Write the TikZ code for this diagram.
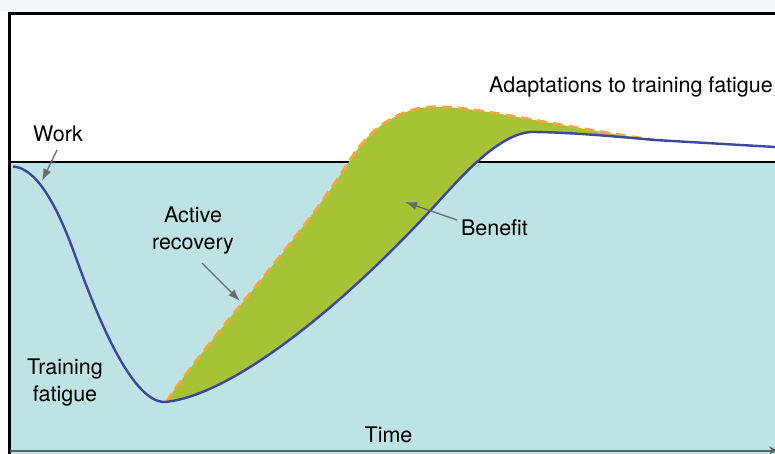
\documentclass[tikz,border=0pt]{standalone}
\usepackage{fontspec}
\setmainfont{TeX Gyre Heros}
\usetikzlibrary{arrows.meta}
\definecolor{bgblue}{HTML}{BDE3E5}
\definecolor{stripgray}{HTML}{F3F7F8}
\definecolor{benefitgreen}{HTML}{A5C334}
\definecolor{curveblue}{HTML}{3B47A1}
\definecolor{dashorange}{HTML}{F7A540}
\definecolor{arrowgray}{HTML}{6A6B6D}
\definecolor{axisgray}{HTML}{5E5F61}
\begin{document}
\begin{tikzpicture}[x=1pt,y=-1pt,
  lbl/.style={inner sep=0pt, font=\fontsize{21.5}{27}\selectfont, text=black},
  pointer/.style={draw=arrowgray, line width=1.3pt, -{Latex[length=12pt,width=8.5pt]}, fill=arrowgray}]
\useasboundingbox (0,0) rectangle (775,454);
\clip (0,0) rectangle (775,454);
% background
\fill[stripgray] (0,0) rectangle (775,11.5);
\fill[bgblue] (9.7,162) rectangle (775,454);
\draw[black, line width=2pt] (9.7,162) -- (775,162);
\draw[black, line width=2.6pt] (8.4,13.3) -- (775,13.3);
\draw[black, line width=2.6pt] (9.7,12) -- (9.7,454);
% time axis
\coordinate (axisstart) at (9.7,450.5);
\coordinate (axisend) at (778,450.5);
\draw[axisgray, line width=2pt, -{Stealth[length=9pt,width=8pt]}] (axisstart) -- (axisend);
% benefit area
\fill[benefitgreen] (166,402) .. controls (215,330) and (300,240) .. (350,160)
  .. controls (375,120) and (410,105) .. (440,107)
  .. controls (480,107) and (560,127) .. (655,140)
  .. controls (610,136) and (565,132) .. (530,132)
  .. controls (500,135) and (467,170) .. (440,200)
  .. controls (340,310) and (230,396) .. (165,402) -- cycle;
% dashed active recovery curve
\draw[dashorange, line width=2.8pt, dash pattern=on 10pt off 6pt]
  (166,402) .. controls (215,330) and (300,240) .. (350,160)
  .. controls (375,120) and (410,105) .. (440,107)
  .. controls (480,107) and (560,127) .. (655,140);
% fatigue / adaptation curve
\draw[curveblue, line width=2.4pt]
  (13,166.5) .. controls (35,168) and (55,200) .. (75,255)
  .. controls (93,305) and (130,403) .. (165,402)
  .. controls (230,396) and (340,310) .. (440,200)
  .. controls (467,170) and (500,135) .. (530,132)
  .. controls (565,132) and (610,136) .. (655,140) -- (775,147);
% labels
\node[lbl, anchor=base] (work) at (58,142) {Work};
\node[lbl, align=center, anchor=center] (active) at (193,231) {Active\\recovery};
\node[lbl, anchor=base] (benefit) at (494.5,235) {Benefit};
\node[lbl, align=center, anchor=center] (fatigue) at (65,383) {Training\\fatigue};
\node[lbl, anchor=base] (time) at (388.5,442) {Time};
\node[lbl, anchor=base west] (adapt) at (489,93) {Adaptations to training fatigue};
% pointers
\coordinate (worktail) at (57,150);
\coordinate (workhead) at (42,181);
\coordinate (activetail) at (202,263);
\coordinate (activehead) at (240,301);
\coordinate (benefittail) at (457,220);
\coordinate (benefithead) at (405,202);
\draw[pointer] (worktail) -- (workhead);
\draw[pointer] (activetail) -- (activehead);
\draw[pointer] (benefittail) -- (benefithead);
\end{tikzpicture}
\end{document}
